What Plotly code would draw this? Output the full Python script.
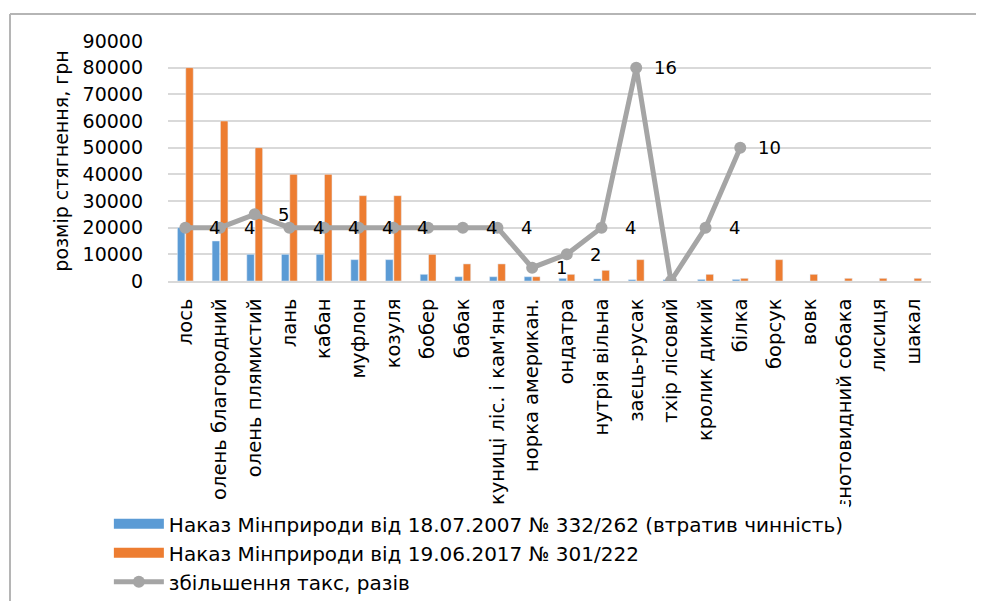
import plotly.graph_objects as go

categories = ["лось", "олень благородний", "олень плямистий", "лань", "кабан", "муфлон",
              "козуля", "бобер", "бабак", "куниці ліс. і кам'яна", "норка американ.",
              "ондатра", "нутрія вільна", "заєць-русак", "тхір лісовий", "кролик дикий",
              "білка", "борсук", "вовк", "єнотовидний собака", "лисиця", "шакал"]

fee_2007 = [20000, 15000, 10000, 10000, 10000, 8000, 8000, 2500, 1600, 1600, 1600,
            1000, 800, 500, 500, 600, 600, None, None, None, None, None]
fee_2017 = [80000, 60000, 50000, 40000, 40000, 32000, 32000, 10000, 6400, 6400, 1600,
            2500, 4000, 8000, 0, 2500, 1000, 8000, 2500, 1000, 1000, 1000]
ratio = [4, 4, 5, 4, 4, 4, 4, 4, 4, 4, 1, 2, 4, 16, 0, 4, 10,
         None, None, None, None, None]
ratio_labels = ["4", "4", "5", "4", "4", "4", "4", "", "4", "4", "1", "2", "4", "16", "", "4", "10",
                "", "", "", "", ""]

name_2007 = "Наказ Мінприроди від 18.07.2007 № 332/262 (втратив чинність)"
name_2017 = "Наказ Мінприроди від 19.06.2017 № 301/222"
name_ratio = "збільшення такс, разів"

yticks = [0, 10000, 20000, 30000, 40000, 50000, 60000, 70000, 80000, 90000]

BLUE, ORANGE, GRAY = "#5B9BD5", "#ED7D31", "#A5A5A5"
FONT = "DejaVu Sans"

fig = go.Figure()
fig.add_trace(go.Bar(x=categories, y=fee_2007, name=name_2007, marker_color=BLUE,
                     legendgroup="a", showlegend=False))
fig.add_trace(go.Bar(x=categories, y=fee_2017, name=name_2017, marker_color=ORANGE,
                     legendgroup="b", showlegend=False))
# legend entries drawn as wide swatches (Excel style)
fig.add_trace(go.Scatter(x=[None], y=[None], name=name_2007, mode="lines",
                         line=dict(color=BLUE, width=14), legendgroup="a"))
fig.add_trace(go.Scatter(x=[None], y=[None], name=name_2017, mode="lines",
                         line=dict(color=ORANGE, width=14), legendgroup="b"))
fig.add_trace(go.Scatter(x=categories, y=ratio, name=name_ratio, yaxis="y2",
                         mode="lines+markers", line=dict(color=GRAY, width=5),
                         marker=dict(color=GRAY, size=12), connectgaps=False))

for c, r, t in zip(categories, ratio, ratio_labels):
    if r is not None and t:
        fig.add_annotation(x=c, y=r, xref="x", yref="y2", text=t, showarrow=False,
                           xshift=29, font=dict(family=FONT, size=18, color="#000000"))

# page body has an 8px default margin: figure coords = screen coords - 8
OFF = 8
PL, PR, PT, PB = 168 - OFF, 931 - OFF, 41 - OFF, 281 - OFF
pw, ph = PR - PL, PB - PT
bx = (10 - OFF - PL) / pw
by = (PB - (14 - OFF)) / ph
fig.add_shape(type="line", xref="paper", yref="paper", x0=bx, x1=1.2, y0=by, y1=by,
              line=dict(color="#B5B5B5", width=2))
fig.add_shape(type="line", xref="paper", yref="paper", x0=bx, x1=bx, y0=by, y1=-2,
              line=dict(color="#B5B5B5", width=2))

fig.update_layout(
    width=984, height=601,
    margin=dict(l=PL, r=984 - PR, t=PT, b=601 - PB, autoexpand=False),
    paper_bgcolor="white", plot_bgcolor="white",
    font=dict(family=FONT, size=19, color="#000000"),
    barmode="group", bargap=0.52, bargroupgap=0.1,
    showlegend=True,
    legend=dict(x=-0.0775, y=-0.93, xanchor="left", yanchor="top",
                orientation="v", traceorder="normal", itemwidth=50,
                font=dict(family=FONT, size=20)),
    xaxis=dict(tickangle=-90, showgrid=False, showline=True, linecolor="#D9D9D9",
               linewidth=1.5, ticks="", tickfont=dict(family=FONT, size=19.5),
               ticklabelstandoff=8, automargin=False,
               range=[-0.5, len(categories) - 0.5]),
    yaxis=dict(range=[0, 90000], tickvals=yticks, tickformat="d", showgrid=True,
               gridcolor="#D9D9D9", gridwidth=1.5, zeroline=False, showline=False,
               ticks="", tickfont=dict(family=FONT, size=19), ticklabelstandoff=24,
               automargin=False,
               title=dict(text="розмір стягнення, грн", font=dict(family=FONT, size=19),
                          standoff=8)),
    yaxis2=dict(range=[0, 18], overlaying="y", side="right", visible=False),
)

fig.write_html("out.html")
